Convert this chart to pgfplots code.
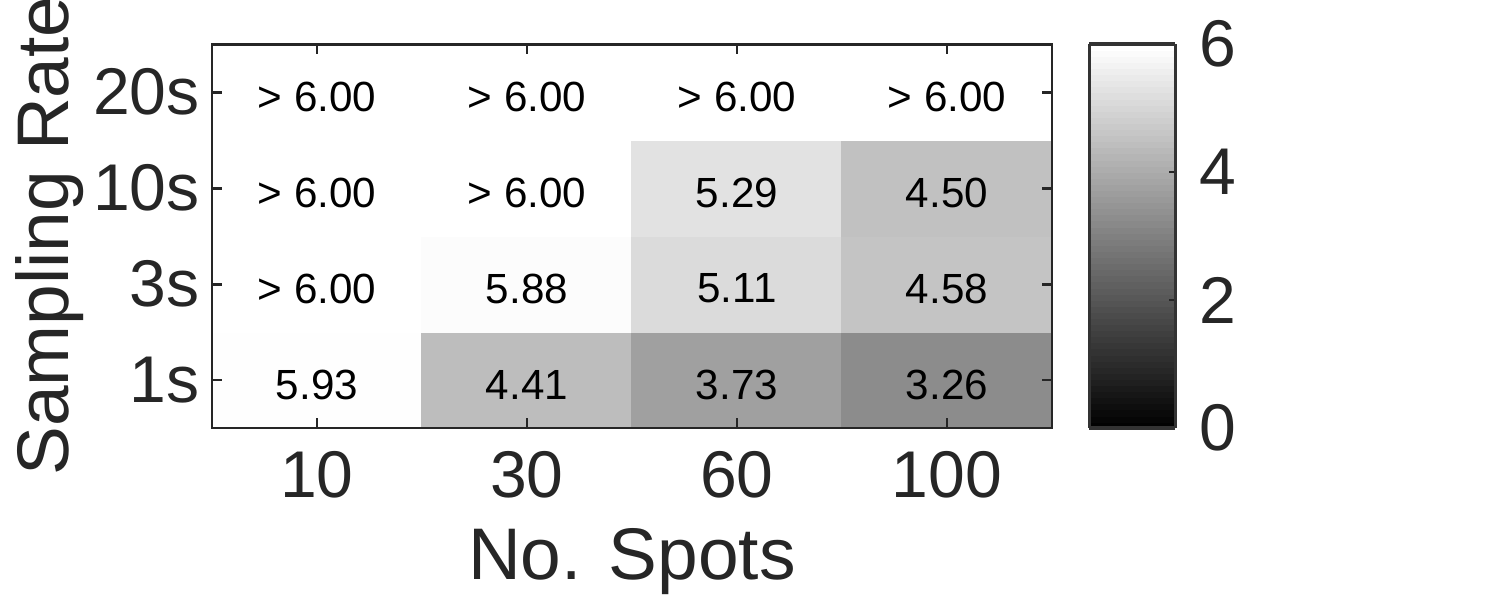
\documentclass[border=0pt]{standalone}
\usepackage{pgfplots}
\pgfplotsset{compat=1.18}
\usepackage{fontspec}
\setmainfont{Liberation Sans}
\definecolor{axgray}{RGB}{38,38,38}
\begin{document}
\begin{tikzpicture}
\path[use as bounding box] (0,0) rectangle (15cm,6cm);
\begin{axis}[
  at={(2.12cm,1.72cm)}, anchor=south west,
  scale only axis, width=8.4cm, height=3.84cm,
  xmin=-0.5, xmax=3.5, ymin=-0.5, ymax=3.5,
  axis line style={axgray, line width=0.85pt},
  every tick/.style={axgray, line width=0.85pt},
  major tick length=0.1cm,
  tick align=inside,
  xtick={0,1,2,3}, xticklabels={10,30,60,100},
  ytick={0,1,2,3}, yticklabels={1s,3s,10s,20s},
  ticklabel style={font=\fontsize{18.8pt}{20pt}\selectfont, text=axgray},
  xticklabel style={yshift=-0.11cm},
  /pgf/number format/assume math mode=true,
  xlabel={No. Spots}, ylabel={Sampling Rate},
  label style={font=\fontsize{20.8pt}{24pt}\selectfont, text=axgray},
  xlabel style={yshift=-0.06cm},
  ylabel style={yshift=-0.15cm},
  colormap/blackwhite,
  point meta min=0, point meta max=6,
  colorbar sampled,
  colorbar style={
    samples=64,
    xshift=0.06cm,
    scale only axis, width=0.86cm, height=3.84cm,
    ytick={0,2,4,6},
    ytick pos=right,
    yticklabel style={font=\fontsize{18.8pt}{20pt}\selectfont, text=axgray, xshift=0.12cm},
    /pgf/number format/assume math mode=true,
    axis line style={draw={rgb,255:red,51;green,51;blue,51}, line width=1.1pt},
    every tick/.style={axgray, line width=0.85pt},
    major tick length=0.06cm,
    tick align=inside,
  },
  axis on top,
]
\addplot[matrix plot*, mesh/cols=4, point meta=explicit] table[meta=c]{
x y c
0 0 5.93
1 0 4.41
2 0 3.73
3 0 3.26
0 1 6
1 1 5.88
2 1 5.11
3 1 4.58
0 2 6
1 2 6
2 2 5.29
3 2 4.50
0 3 6
1 3 6
2 3 6
3 3 6
};
\addplot[draw=none, mark=none, point meta=explicit symbolic, nodes near coords,
  nodes near coords align=center,
  every node near coord/.append style={font=\fontsize{12pt}{14pt}\selectfont, text=black, anchor=center, yshift=-0.045cm}]
coordinates {
(0,0) [5.93] (1,0) [4.41] (2,0) [3.73] (3,0) [3.26]
(0,1) [> 6.00] (1,1) [5.88] (2,1) [5.11] (3,1) [4.58]
(0,2) [> 6.00] (1,2) [> 6.00] (2,2) [5.29] (3,2) [4.50]
(0,3) [> 6.00] (1,3) [> 6.00] (2,3) [> 6.00] (3,3) [> 6.00]
};
\end{axis}
\end{tikzpicture}
\end{document}
